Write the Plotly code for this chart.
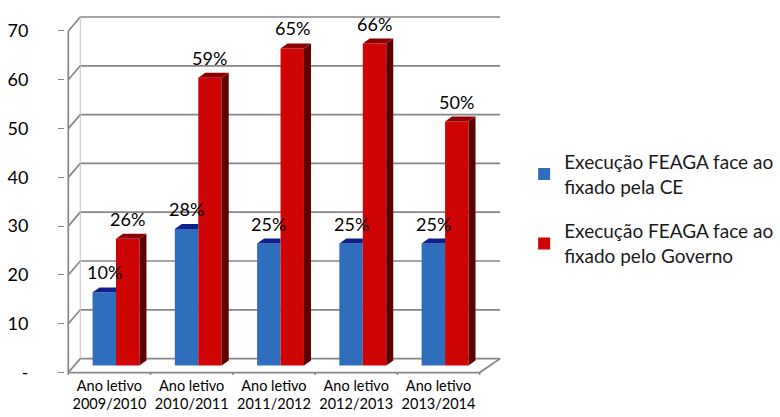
import plotly.graph_objects as go

# ---------------- data ----------------
categories = ["Ano letivo<br>2009/2010", "Ano letivo<br>2010/2011", "Ano letivo<br>2011/2012",
              "Ano letivo<br>2012/2013", "Ano letivo<br>2013/2014"]
series_names = ["Execução FEAGA face ao<br>fixado pela CE",
                "Execução FEAGA face ao<br>fixado pelo Governo"]
ce_values = [15, 28, 25, 25, 25]
ce_labels = ["10%", "28%", "25%", "25%", "25%"]
gov_values = [26, 59, 65, 66, 50]
gov_labels = ["26%", "59%", "65%", "66%", "50%"]
y_ticks = [0, 10, 20, 30, 40, 50, 60, 70]
y_ticktext = ["-", "10", "20", "30", "40", "50", "60", "70"]

# ---------------- layout geometry ----------------
W, H = 780, 417
FONT = "Lato, 'Noto Sans', sans-serif"
px_per_x = 82.29          # pixels per category
px_per_y = 4.886          # pixels per unit of value
x_lo, x_hi = -0.54, 4.76
y_lo, y_hi = -0.5, 73.48
left_px = 68 - (-0.5 - x_lo) * px_per_x
plot_w = (x_hi - x_lo) * px_per_x
right_px = W - left_px - plot_w
top_px = 14
plot_h = (y_hi - y_lo) * px_per_y
bottom_px = H - top_px - plot_h

wall_dx = 12 / px_per_x   # back wall offset
wall_dy = 14 / px_per_y
bar_shift = 7 / px_per_y  # bars stand mid-depth on the floor
bar_w = 0.285
off_ce, off_gov = -0.205, 0.08
dx3 = 7 / px_per_x        # bar depth
dy3 = 5 / px_per_y

xs = list(range(len(categories)))

fig = go.Figure()
fig.add_trace(go.Bar(x=xs, y=ce_values, name=series_names[0], width=bar_w, offset=off_ce,
                     marker=dict(color="#2F6EBD", line=dict(width=0)), yaxis="y2",
                     legendgroup="a"))
fig.add_trace(go.Bar(x=xs, y=gov_values, name=series_names[1], width=bar_w, offset=off_gov,
                     marker=dict(color="#CF0505", line=dict(width=0)), yaxis="y2",
                     legendgroup="b"))

shapes = []
grid_col = "#8A8488"
# back wall gridlines with perspective on left wall
for t in y_ticks:
    shapes.append(dict(type="path", xref="x", yref="y", layer="below",
                       path=f"M {-0.5},{t} L {-0.5 + wall_dx},{t + wall_dy} L {x_hi - 0.01},{t + wall_dy}",
                       line=dict(color=grid_col, width=1.7)))
# back wall left edge
shapes.append(dict(type="line", xref="x", yref="y", layer="below",
                   x0=-0.5 + wall_dx, x1=-0.5 + wall_dx, y0=wall_dy, y1=70 + wall_dy,
                   line=dict(color="#C8C4C8", width=1)))
# floor front edge and right slant
shapes.append(dict(type="path", xref="x", yref="y", layer="below",
                   path=f"M {-0.5},0 L {4.5},0 L {x_hi - 0.01},{wall_dy}",
                   line=dict(color=grid_col, width=1.7)))
# front y axis line
shapes.append(dict(type="line", xref="x", yref="y", layer="below",
                   x0=-0.5, x1=-0.5, y0=0, y1=70, line=dict(color=grid_col, width=1.7)))
# category boundary ticks just below the floor
for b in [-0.5, 0.5, 1.5, 2.5, 3.5, 4.5]:
    shapes.append(dict(type="line", xref="x", yref="y", layer="below",
                       x0=b, x1=b, y0=0, y1=-0.5,
                       line=dict(color=grid_col, width=1.5)))

# 3D faces of bars
for i in xs:
    v = gov_values[i]
    xl = i + off_gov
    xr = xl + bar_w
    shapes.append(dict(type="path", xref="x", yref="y2", layer="above",
                       path=f"M {xr},0 L {xr},{v} L {xr + dx3},{v + dy3} L {xr + dx3},{dy3} Z",
                       fillcolor="#5E0000", line=dict(width=0)))
    shapes.append(dict(type="path", xref="x", yref="y2", layer="above",
                       path=f"M {xl},{v} L {xr},{v} L {xr + dx3},{v + dy3} L {xl + dx3},{v + dy3} Z",
                       fillcolor="#8E0000", line=dict(width=0)))
    vb = ce_values[i]
    xlb = i + off_ce
    xrb = xlb + bar_w
    shapes.append(dict(type="path", xref="x", yref="y2", layer="above",
                       path=f"M {xlb},{vb} L {xrb},{vb} L {xrb},{vb + dy3} L {xlb + dx3},{vb + dy3} Z",
                       fillcolor="#10208A", line=dict(width=0)))

annotations = []
for i in xs:
    annotations.append(dict(x=i + off_ce + bar_w / 2, y=ce_values[i], xref="x", yref="y2",
                            text=ce_labels[i], showarrow=False, yshift=20, yanchor="middle",
                            font=dict(family=FONT, size=18, color="#000")))
    annotations.append(dict(x=i + off_gov + bar_w / 2, y=gov_values[i], xref="x", yref="y2",
                            text=gov_labels[i], showarrow=False, yshift=20, yanchor="middle",
                            font=dict(family=FONT, size=18, color="#000")))

legend_left_px = 524
legend_top_px = 143
fig.update_layout(
    width=W, height=H,
    margin=dict(l=left_px, r=right_px, t=top_px, b=bottom_px, pad=0, autoexpand=False),
    paper_bgcolor="white", plot_bgcolor="white",
    barmode="overlay",
    font=dict(family=FONT, color="#000"),
    xaxis=dict(range=[x_lo, x_hi], tickmode="array", tickvals=xs, ticktext=categories,
               showgrid=False, zeroline=False, showline=False, ticks="", automargin=False,
               tickfont=dict(size=14.5, color="#000")),
    yaxis=dict(range=[y_lo, y_hi], tickmode="array", tickvals=y_ticks, ticktext=y_ticktext,
               showgrid=False, zeroline=False, showline=False, ticks="outside", ticklen=6,
               tickcolor=grid_col, ticklabelstandoff=26, automargin=False,
               tickfont=dict(size=18, color="#000")),
    yaxis2=dict(range=[y_lo - bar_shift, y_hi - bar_shift], overlaying="y", visible=False),
    shapes=shapes,
    annotations=annotations,
    showlegend=True,
    legend=dict(x=(legend_left_px - left_px) / plot_w, y=1 - (legend_top_px - top_px) / plot_h,
                xanchor="left", yanchor="top", xref="paper", yref="paper",
                font=dict(family=FONT, size=19, color="#1A1A1A"),
                traceorder="grouped", tracegroupgap=17, itemwidth=30,
                bgcolor="rgba(0,0,0,0)", borderwidth=0),
)

fig.write_html("out.html")
